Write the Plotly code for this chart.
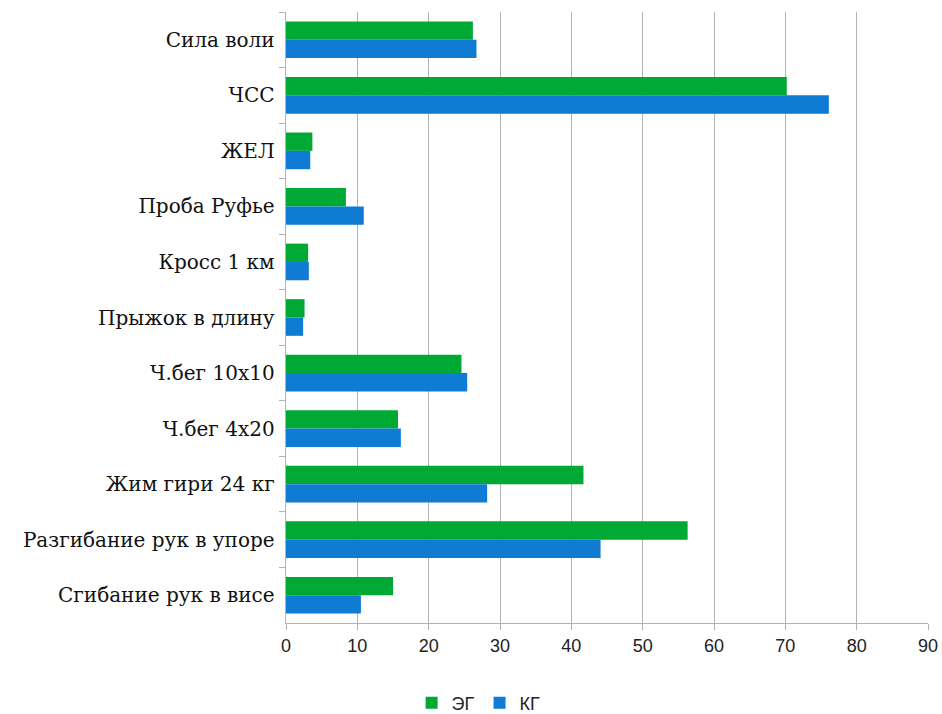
import plotly.graph_objects as go

categories = ["Сила воли", "ЧСС", "ЖЕЛ", "Проба Руфье", "Кросс 1 км", "Прыжок в длину",
              "Ч.бег 10х10", "Ч.бег 4х20", "Жим гири 24 кг", "Разгибание рук в упоре",
              "Сгибание рук в висе"]
eg_values = [26.2, 70.2, 3.7, 8.4, 3.1, 2.6, 24.6, 15.7, 41.7, 56.3, 15.0]
kg_values = [26.7, 76.1, 3.4, 10.9, 3.2, 2.4, 25.4, 16.1, 28.2, 44.1, 10.5]
x_ticks = [0, 10, 20, 30, 40, 50, 60, 70, 80, 90]

fig = go.Figure()
fig.add_trace(go.Bar(name="ЭГ", y=categories, x=eg_values, orientation="h",
                     marker=dict(color="#00A933", line=dict(width=0))))
fig.add_trace(go.Bar(name="КГ", y=categories, x=kg_values, orientation="h",
                     marker=dict(color="#0F7BD2", line=dict(width=0))))

fig.update_layout(
    width=942, height=714,
    margin=dict(l=286, r=14, t=12, b=91, autoexpand=False),
    paper_bgcolor="white", plot_bgcolor="white",
    barmode="group", bargap=0.34, bargroupgap=0,
    legend=dict(orientation="h", x=0.30, xanchor="center", y=-0.131, yanchor="middle",
                font=dict(family="Liberation Sans", size=18, color="#222"),
                itemwidth=30, tracegroupgap=0),
    xaxis=dict(range=[0, 90], tickvals=x_ticks, showgrid=True, gridcolor="#b3b3b3",
               gridwidth=1, zeroline=False, showline=True, linecolor="#b3b3b3",
               ticks="outside", ticklen=6, tickcolor="#b3b3b3", automargin=False,
               tickfont=dict(family="Liberation Sans", size=18, color="#222")),
    yaxis=dict(categoryorder="array", categoryarray=categories, autorange="reversed",
               showline=True, linecolor="#b3b3b3", ticks="outside", ticklen=6,
               tickcolor="#b3b3b3", tickson="boundaries", showgrid=False, automargin=False,
               tickfont=dict(family="DejaVu Serif", size=20, color="#111"), ticksuffix=" "),
)

fig.write_html("out.html")
